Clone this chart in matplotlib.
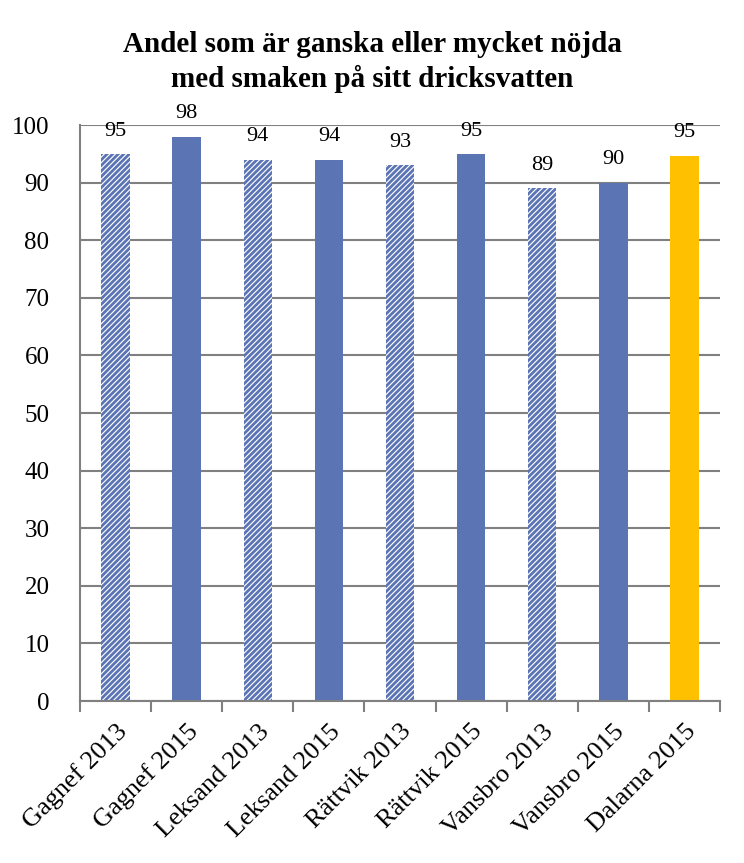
import matplotlib.pyplot as plt

# Data
categories = ['Gagnef 2013', 'Gagnef 2015', 'Leksand 2013', 'Leksand 2015',
              'Rättvik 2013', 'Rättvik 2015', 'Vansbro 2013', 'Vansbro 2015',
              'Dalarna 2015']
values = [95, 98, 94, 94, 93, 95, 89, 90, 94.7]
labels = ['95', '98', '94', '94', '93', '95', '89', '90', '95']
kinds = ['hatch', 'solid', 'hatch', 'solid', 'hatch', 'solid', 'hatch', 'solid', 'total']

blue = '#5B74B3'
gold = '#FFC000'

plt.rcParams['font.family'] = ['Liberation Serif', 'DejaVu Serif']
plt.rcParams['hatch.linewidth'] = 2.0

fig = plt.figure(figsize=(7.44, 8.63), dpi=100)
ax = fig.add_axes([80 / 744, 162 / 863, 640 / 744, 576 / 863])

x = range(len(categories))
for i, (v, k) in enumerate(zip(values, kinds)):
    if k == 'hatch':
        ax.bar(i, v, width=0.4, color='white', edgecolor=blue, hatch='//////',
               linewidth=0, zorder=2)
    elif k == 'solid':
        ax.bar(i, v, width=0.4, color=blue, linewidth=0, zorder=2)
    else:
        ax.bar(i, v, width=0.4, color=gold, linewidth=0, zorder=2)
    ax.text(i, v + 2.3, labels[i], ha='center', va='bottom', fontsize=16)

ax.set_xlim(-0.5, len(categories) - 0.5)
ax.set_ylim(0, 100)
ax.set_yticks(range(0, 101, 10))
ax.tick_params(axis='y', length=0, labelsize=18, pad=22)
ax.yaxis.grid(True, color='#808080', linewidth=1.5, zorder=0)
ax.set_axisbelow(True)

ax.set_xticks([i + 0.5 for i in range(-1, len(categories))], minor=False)
ax.set_xticklabels([])
ax.tick_params(axis='x', length=8, color='#808080', width=1.5)
ax.set_xticks(list(x), minor=True)
ax.set_xticklabels(categories, minor=True, rotation=45, ha='right',
                   rotation_mode='anchor', fontsize=19)
ax.tick_params(axis='x', which='minor', length=0, pad=14)

for s in ['top', 'right']:
    ax.spines[s].set_visible(False)
for s in ['left', 'bottom']:
    ax.spines[s].set_color('#808080')
    ax.spines[s].set_linewidth(1.5)

fig.text(0.5, 0.928, 'Andel som är ganska eller mycket nöjda\nmed smaken på sitt dricksvatten',
         ha='center', va='center', fontsize=21, fontweight='bold', linespacing=1.3)

fig.savefig('out.png', dpi=100)
